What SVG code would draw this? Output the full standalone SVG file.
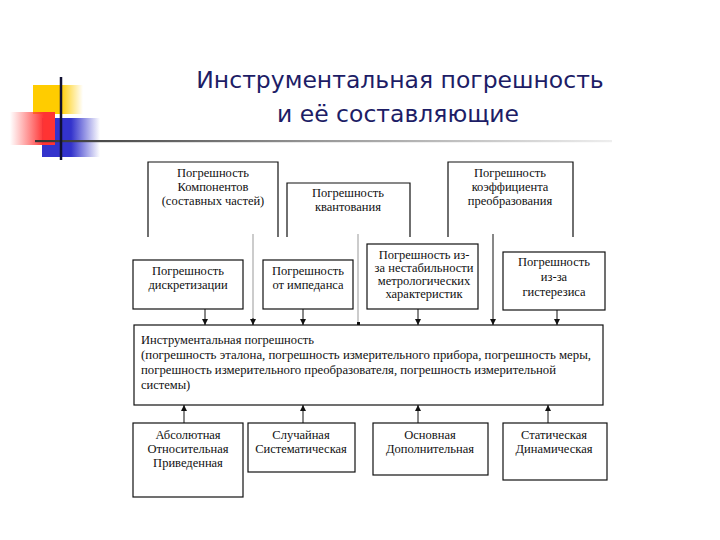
<svg xmlns="http://www.w3.org/2000/svg" width="720" height="540" viewBox="0 0 720 540">
<style>
.title{font-family:"DejaVu Sans","Verdana",sans-serif;font-size:23.5px;fill:#1d1d66;text-anchor:middle}
.t{font-family:"Liberation Serif","Times New Roman",serif;font-size:12.5px;fill:#111;text-anchor:middle}
.tl{font-family:"Liberation Serif","Times New Roman",serif;font-size:12.5px;fill:#111}
.box{fill:none;stroke:#111;stroke-width:1.2}
.ln{fill:none;stroke:#111;stroke-width:1}
.gl{fill:none;stroke:#999;stroke-width:1}
</style>
<defs>
<linearGradient id="gy" x1="0" y1="0" x2="1" y2="0">
<stop offset="0" stop-color="#ffcc00"/><stop offset="0.55" stop-color="#ffcc00"/><stop offset="1" stop-color="#ffcc00" stop-opacity="0"/>
</linearGradient>
<linearGradient id="gb" x1="0" y1="0" x2="1" y2="0">
<stop offset="0" stop-color="#3333cc"/><stop offset="0.5" stop-color="#3333cc"/><stop offset="1" stop-color="#3333cc" stop-opacity="0"/>
</linearGradient>
<linearGradient id="gr" x1="0" y1="0" x2="1" y2="0">
<stop offset="0" stop-color="#ff4040" stop-opacity="0"/><stop offset="0.75" stop-color="#ff3333"/><stop offset="1" stop-color="#ff3333"/>
</linearGradient>
<linearGradient id="gline" x1="0" y1="0" x2="1" y2="0">
<stop offset="0" stop-color="#333"/><stop offset="0.5" stop-color="#999"/><stop offset="1" stop-color="#eee"/>
</linearGradient>
<marker id="ah" viewBox="0 0 8 8" refX="8" refY="4" markerWidth="6" markerHeight="6" orient="auto">
<path d="M0,0 L8,4 L0,8 z" fill="#111"/>
</marker>
</defs>

<g id="decor">
<rect x="33" y="85" width="50" height="29" fill="url(#gy)"/>
<rect x="42" y="118" width="58" height="39" fill="url(#gb)"/>
<rect x="10" y="112" width="45" height="33" fill="url(#gr)"/>
<rect x="35" y="140" width="577" height="2.2" fill="url(#gline)"/>
<line x1="61" y1="77" x2="61" y2="160" stroke="#111133" stroke-width="2.5"/>
</g>

<g id="title">
<text class="title" x="400" y="88">Инструментальная погрешность</text>
<text class="title" x="398" y="122">и её составляющие</text>
</g>

<g id="connectors">
<line class="ln" x1="205" y1="309" x2="205" y2="325" marker-end="url(#ah)"/>
<line class="gl" x1="253" y1="234" x2="253" y2="325"/>
<line class="ln" x1="253" y1="318" x2="253" y2="325" marker-end="url(#ah)"/>
<line class="ln" x1="303" y1="309" x2="303" y2="325" marker-end="url(#ah)"/>
<line class="gl" x1="358" y1="234" x2="358" y2="323"/>
<rect x="357" y="322" width="3" height="3" fill="#111"/>
<line class="ln" x1="418" y1="309" x2="418" y2="325" marker-end="url(#ah)"/>
<line class="ln" x1="493" y1="234" x2="493" y2="325" marker-end="url(#ah)"/>
<line class="ln" x1="557" y1="310" x2="557" y2="325" marker-end="url(#ah)"/>
<line class="ln" x1="184" y1="423" x2="184" y2="405" marker-end="url(#ah)"/>
<line class="ln" x1="303" y1="423" x2="303" y2="405" marker-end="url(#ah)"/>
<line class="ln" x1="418" y1="423" x2="418" y2="405" marker-end="url(#ah)"/>
<line class="ln" x1="548" y1="423" x2="548" y2="405" marker-end="url(#ah)"/>
</g>

<g id="n-components">
<path class="box" d="M148,237 V162 H278 V237"/>
<text class="t" x="213" y="177">Погрешность</text>
<text class="t" x="213" y="191">Компонентов</text>
<text class="t" x="213" y="205">(составных частей)</text>
</g>
<g id="n-quant">
<path class="box" d="M287,237 V183 H410 V237"/>
<text class="t" x="348" y="197">Погрешность</text>
<text class="t" x="348" y="211">квантования</text>
</g>
<g id="n-coef">
<path class="box" d="M448,237 V162 H573 V237"/>
<text class="t" x="510" y="177">Погрешность</text>
<text class="t" x="510" y="191">коэффициента</text>
<text class="t" x="510" y="205">преобразования</text>
</g>

<g id="n-discr">
<rect class="box" x="133" y="260" width="110" height="49"/>
<text class="t" x="188" y="275">Погрешность</text>
<text class="t" x="188" y="289">дискретизации</text>
</g>
<g id="n-imped">
<rect class="box" x="263" y="260" width="90" height="49"/>
<text class="t" x="308" y="275">Погрешность</text>
<text class="t" x="308" y="289">от импеданса</text>
</g>
<g id="n-instab">
<rect class="box" x="367" y="244" width="111" height="65"/>
<text class="t" x="424" y="259">Погрешность из-</text>
<text class="t" x="424" y="272">за нестабильности</text>
<text class="t" x="424" y="285">метрологических</text>
<text class="t" x="424" y="298">характеристик</text>
</g>
<g id="n-hyst">
<rect class="box" x="503" y="252" width="102" height="58"/>
<text class="t" x="554" y="266">Погрешность</text>
<text class="t" x="554" y="281">из-за</text>
<text class="t" x="554" y="296">гистерезиса</text>
</g>

<g id="n-main">
<rect class="box" x="134" y="325" width="469" height="80"/>
<text class="tl" x="141" y="344">Инструментальная погрешность</text>
<text class="tl" x="141" y="359" textLength="450" lengthAdjust="spacingAndGlyphs">(погрешность эталона, погрешность измерительного прибора, погрешность меры,</text>
<text class="tl" x="141" y="374" textLength="415" lengthAdjust="spacingAndGlyphs">погрешность измерительного преобразователя, погрешность измерительной</text>
<text class="tl" x="141" y="389">системы)</text>
</g>

<g id="n-abs">
<rect class="box" x="133" y="423" width="110" height="74"/>
<text class="t" x="188" y="439">Абсолютная</text>
<text class="t" x="188" y="453">Относительная</text>
<text class="t" x="188" y="467">Приведенная</text>
</g>
<g id="n-rand">
<rect class="box" x="248" y="423" width="107" height="49"/>
<text class="t" x="301" y="439">Случайная</text>
<text class="t" x="301" y="453">Систематическая</text>
</g>
<g id="n-basic">
<rect class="box" x="373" y="423" width="115" height="52"/>
<text class="t" x="430" y="439">Основная</text>
<text class="t" x="430" y="453">Дополнительная</text>
</g>
<g id="n-static">
<rect class="box" x="503" y="423" width="104" height="57"/>
<text class="t" x="554" y="439">Статическая</text>
<text class="t" x="554" y="453">Динамическая</text>
</g>
</svg>
